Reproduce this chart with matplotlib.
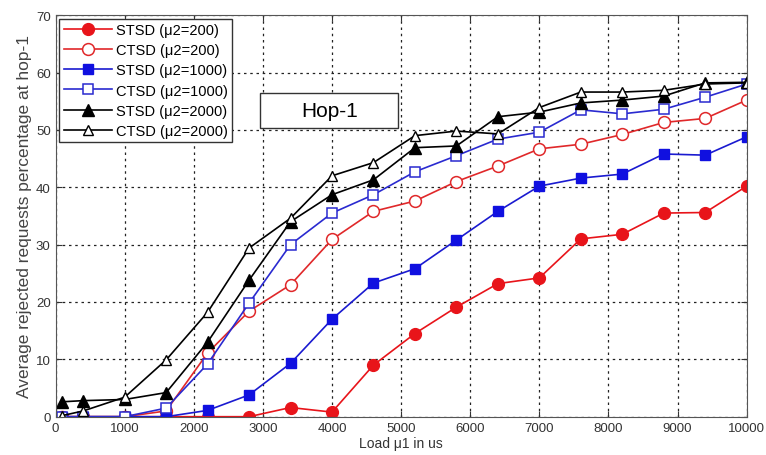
"""Average rejected requests at hop-1 versus load."""
import matplotlib
matplotlib.use("Agg")
import matplotlib.pyplot as plt
from matplotlib.patches import Rectangle

plt.rcParams['font.family'] = ['Liberation Sans', 'DejaVu Sans']

# load points (us)
load = [100, 400, 1000, 1600, 2200, 2800, 3400, 4000, 4600, 5200,
        5800, 6400, 7000, 7600, 8200, 8800, 9400, 10000]

# rejected requests percentage per scheme
stsd_200 = [0, 0, 0, 0, 0, 0, 1.6, 0.8, 9.0, 14.5,
            19.1, 23.2, 24.2, 31.0, 31.8, 35.5, 35.6, 40.2]
ctsd_200 = [0, 0, 0, 1.0, 11.1, 18.4, 23.0, 30.9, 35.8, 37.6,
            41.0, 43.7, 46.7, 47.5, 49.2, 51.3, 52.0, 55.2]
stsd_1000 = [0, 0, 0, 0, 1.1, 3.8, 9.3, 17.0, 23.3, 25.8,
             30.8, 35.8, 40.2, 41.6, 42.3, 45.8, 45.6, 48.8]
ctsd_1000 = [0, 0, 0, 1.5, 9.2, 19.8, 30.0, 35.5, 38.7, 42.7,
             45.5, 48.4, 49.6, 53.5, 52.8, 53.6, 55.7, 58.0]
stsd_2000 = [2.6, 2.8, 3.0, 4.2, 13.0, 23.8, 34.0, 38.7, 41.3, 46.9,
             47.2, 52.3, 53.1, 54.7, 55.2, 55.9, 58.2, 58.3]
ctsd_2000 = [0.2, 1.0, 3.4, 9.9, 18.2, 29.4, 34.6, 42.0, 44.3, 49.0,
             49.8, 49.3, 53.9, 56.6, 56.6, 56.9, 58.0, 58.2]

fig = plt.figure(figsize=(7.66, 4.56), dpi=100)
ax = fig.add_axes([0.0725, 0.084, 0.9023, 0.8805])

lw = 1.2
ax.plot(load, stsd_200, '-o', color='#e8141a', mfc='#e8141a', mec='#e8141a',
        ms=8.5, lw=lw, label='STSD (\u03bc2=200)')
ax.plot(load, ctsd_200, '-o', color='#e0282a', mfc='white', mec='#e0282a',
        ms=8.5, mew=1.1, lw=lw, label='CTSD (\u03bc2=200)')
ax.plot(load, stsd_1000, '-s', color='#1a1ad0', mfc='#1010e0', mec='#1010e0',
        ms=7.5, lw=lw, label='STSD (\u03bc2=1000)')
ax.plot(load, ctsd_1000, '-s', color='#2a2ad0', mfc='white', mec='#2a2ad0',
        ms=7.5, mew=1.1, lw=lw, label='CTSD (\u03bc2=1000)')
ax.plot(load, stsd_2000, '-^', color='black', mfc='black', mec='black',
        ms=8, lw=lw, label='STSD (\u03bc2=2000)')
ax.plot(load, ctsd_2000, '-^', color='black', mfc='white', mec='black',
        ms=7.5, mew=1.0, lw=lw, label='CTSD (\u03bc2=2000)')

ax.set_xlim(0, 10000)
ax.set_ylim(0, 70)
ax.set_xticks(range(0, 10001, 1000))
ax.set_yticks(range(0, 71, 10))
ax.grid(True, color='#222222', linestyle=(0, (2, 3)), linewidth=0.9)
ax.tick_params(direction='in', labelsize=9.5, colors='#333333',
               length=4, top=True, right=True)
for s in ax.spines.values():
    s.set_color('#555555')

ax.set_xlabel('Load \u03bc1 in us', fontsize=10, color='#333333', labelpad=2)
ax.set_ylabel('Average rejected requests percentage at hop-1', fontsize=12.5,
              color='#444444', labelpad=3)

# title box inside the axes
ax.add_patch(Rectangle((2960, 50.3), 2000, 6.1, fc='white', ec='#333333',
                       lw=1.0, zorder=4))
ax.text(3960, 53.35, 'Hop-1', fontsize=15, ha='center', va='center', zorder=5)

leg = ax.legend(loc='upper left', fontsize=10.5, framealpha=1, fancybox=False,
                edgecolor='#333333', borderaxespad=0.25, handlelength=3.3,
                labelspacing=0.42, borderpad=0.3, handletextpad=0.3)
leg.get_frame().set_linewidth(1.0)
leg.set_zorder(6)

fig.savefig('out.png', dpi=100)
